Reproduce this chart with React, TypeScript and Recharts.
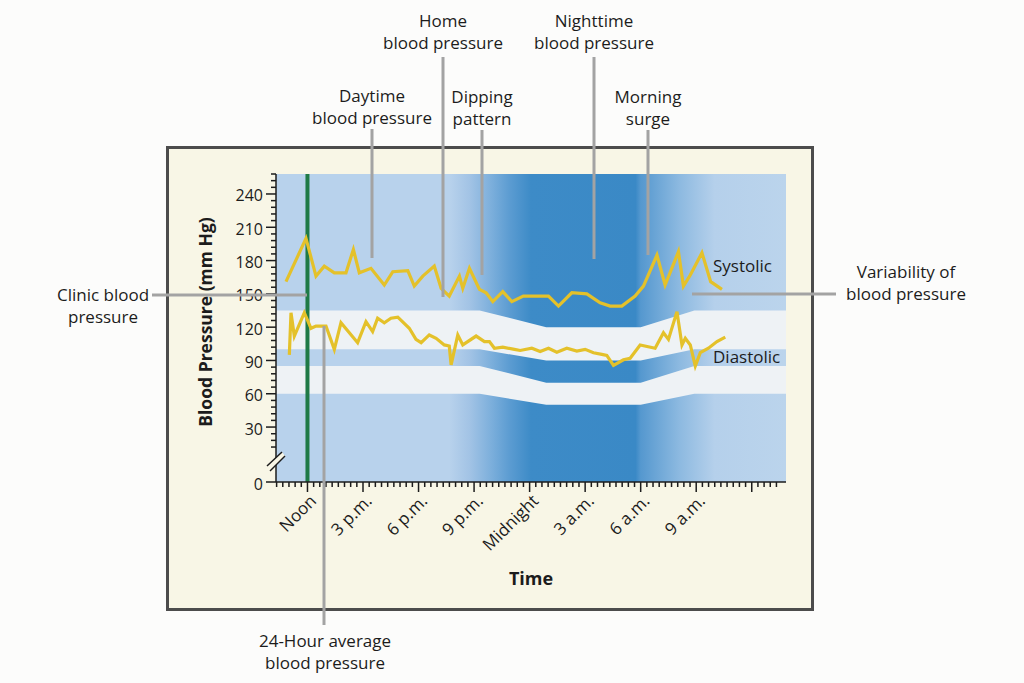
import { Area, ComposedChart, Line, ReferenceLine, XAxis, YAxis } from "recharts";

const FONT = '"Open Sans", "DejaVu Sans", sans-serif';
const INK = "#1c1c1c";
const CALLOUT = "#a3a3a3";
const TRACE = "#e4c12a";
const PALE = "#eef2f5";

// x = hours since midnight of day 1 (24 = midnight, 33 = 9 a.m. next day)
const TIME_DOMAIN: [number, number] = [10.3, 37.85];
// the axis is broken below 30, so "0" sits at -19.5
const BP_DOMAIN: [number, number] = [-19.5, 258];

const timeTickValues = [12, 15, 18, 21, 24, 27, 30, 33, 36];
const timeTickLabels = ["Noon", "3 p.m.", "6 p.m.", "9 p.m.", "Midnight", "3 a.m.", "6 a.m.", "9 a.m.", ""];
const pressureTickValues = [-19.5, 30, 60, 90, 120, 150, 180, 210, 240];
const pressureTickLabels = ["0", "30", "60", "90", "120", "150", "180", "210", "240"];

// minor ticks: every 20 min on time axis, every 6 mm Hg on pressure axis
const timeTicks = Array.from({ length: 82 }, (_, i) => (31 + i) / 3);
const pressureTicks = [-19.5, ...Array.from({ length: 42 }, (_, i) => 12 + i * 6)];

// reference ranges (day -> night -> day)
const bandTime = [10.3, 21.3, 24.9, 30.0, 32.9, 37.85];
const upperBandLow = [100, 100, 90, 90, 100, 100];
const upperBandHigh = [135, 135, 120, 120, 135, 135];
const lowerBandLow = [60, 60, 50, 50, 60, 60];
const lowerBandHigh = [85, 85, 70, 70, 85, 85];

// ambulatory readings
const systolicTime = [10.84, 11.92, 12.46, 12.91, 13.45, 14.08, 14.48, 14.8, 15.43, 16.15, 16.61, 17.42, 17.77, 18.23, 18.85, 19.22, 19.66, 20.21, 20.39, 20.75, 21.29, 21.65, 22.01, 22.55, 23.04, 23.66, 25.02, 25.56, 26.28, 27.09, 27.81, 28.35, 28.98, 29.7, 30.15, 30.88, 31.32, 32.04, 32.31, 32.68, 33.31, 33.78, 34.39];
const systolicValue = [161, 200, 166, 175, 169, 169, 190, 169, 173, 158, 170, 171, 157, 166, 175, 155, 148, 166, 155, 173, 154, 151, 143, 152, 143, 148, 148, 139, 151, 150, 142, 139, 139, 148, 157, 185, 158, 188, 157, 167, 187, 161, 154];
const diastolicTime = [11.02, 11.11, 11.29, 11.83, 12.19, 12.46, 13.0, 13.45, 13.81, 14.71, 15.16, 15.52, 15.79, 16.15, 16.51, 16.88, 17.5, 17.86, 18.14, 18.58, 18.95, 19.39, 19.66, 19.76, 20.12, 20.39, 21.11, 21.56, 21.83, 22.1, 22.55, 23.18, 23.49, 24.12, 24.57, 25.02, 25.47, 26.01, 26.55, 27.0, 27.45, 27.9, 28.17, 28.53, 29.07, 29.43, 29.97, 30.78, 31.23, 31.5, 31.96, 32.23, 32.41, 32.68, 32.95, 33.22, 33.66, 34.12, 34.57];
const diastolicValue = [95, 133, 112, 133, 119, 121, 121, 100, 124, 106, 125, 116, 128, 124, 128, 129, 119, 109, 106, 113, 110, 104, 103, 86, 113, 104, 112, 107, 107, 101, 102, 100, 99, 101, 98, 101, 97.5, 101, 98.5, 100, 97, 95.5, 94.5, 85.5, 90.6, 92, 104, 101, 115, 109, 134, 104, 110, 104, 85, 97, 101, 107, 111];

const backdrop = TIME_DOMAIN.map((t) => ({ t, v: BP_DOMAIN }));
const bands = bandTime.map((t, i) => ({
  t,
  upper: [upperBandLow[i], upperBandHigh[i]],
  lower: [lowerBandLow[i], lowerBandHigh[i]],
}));
const systolic = systolicTime.map((t, i) => ({ t, bp: systolicValue[i] }));
const diastolic = diastolicTime.map((t, i) => ({ t, bp: diastolicValue[i] }));

function TimeTick({ x, y, payload }: any) {
  const v = payload.value as number;
  const idx = timeTickValues.findIndex((m) => Math.abs(m - v) < 0.01);
  const major = idx >= 0;
  const label = major ? timeTickLabels[idx] : "";
  const lx = x + 10;
  const ly = y + 20;
  return (
    <g>
      <line x1={x} x2={x} y1={y} y2={y + (major ? 10 : 5)} stroke={INK} strokeWidth={1.5} />
      {label ? (
        <text x={lx} y={ly} transform={`rotate(-45 ${lx} ${ly})`} textAnchor="end" fontSize={17} fill={INK} fontFamily={FONT}>
          {label}
        </text>
      ) : null}
    </g>
  );
}

function PressureTick({ x, y, payload }: any) {
  const v = payload.value as number;
  const idx = pressureTickValues.indexOf(v);
  const major = idx >= 0;
  return (
    <g>
      <line x1={x - (major ? 10 : 5)} x2={x} y1={y} y2={y} stroke={INK} strokeWidth={1.5} />
      {major ? (
        <text x={x - 13} y={y + 7.5} textAnchor="end" fontSize={16} fill={INK} fontFamily={FONT}>
          {pressureTickLabels[idx]}
        </text>
      ) : null}
    </g>
  );
}

function Note({ x, y, lines }: { x: number; y: number; lines: string[] }) {
  return (
    <text x={x} y={y} textAnchor="middle" fontSize={17} fill={INK} fontFamily={FONT}>
      {lines.map((s, i) => (
        <tspan key={i} x={x} dy={i === 0 ? 0 : 22}>
          {s}
        </tspan>
      ))}
    </text>
  );
}

function Overlay() {
  const line = { stroke: CALLOUT, strokeWidth: 3 };
  return (
    <svg width={1024} height={683} style={{ position: "absolute", left: 0, top: 0, pointerEvents: "none" }}>
      {/* axis break */}
      <polygon points="267,466 282,452 285,456 270,471" fill="#f8f6e6" />
      <line x1={267} y1={466} x2={282} y2={452} stroke={INK} strokeWidth={1.5} />
      <line x1={270} y1={471} x2={285} y2={456} stroke={INK} strokeWidth={1.5} />

      {/* callouts */}
      <line x1={372} y1={129} x2={372} y2={258} {...line} />
      <line x1={443} y1={57} x2={443} y2={297} {...line} />
      <line x1={482} y1={130} x2={482} y2={275} {...line} />
      <line x1={594} y1={57} x2={594} y2={259} {...line} />
      <line x1={648} y1={130} x2={648} y2={255} {...line} />
      <line x1={152} y1={295} x2={307} y2={295} {...line} />
      <line x1={692} y1={294} x2={836} y2={294} {...line} />
      <line x1={324} y1={326} x2={324} y2={625} {...line} />

      <Note x={372} y={102} lines={["Daytime", "blood pressure"]} />
      <Note x={443} y={27} lines={["Home", "blood pressure"]} />
      <Note x={482} y={103} lines={["Dipping", "pattern"]} />
      <Note x={594} y={27} lines={["Nighttime", "blood pressure"]} />
      <Note x={648} y={103} lines={["Morning", "surge"]} />
      <Note x={103} y={301} lines={["Clinic blood", "pressure"]} />
      <Note x={906} y={278} lines={["Variability of", "blood pressure"]} />
      <Note x={325} y={647} lines={["24-Hour average", "blood pressure"]} />

      <text x={713} y={272} fontSize={17} fill={INK} fontFamily={FONT}>Systolic</text>
      <text x={713} y={363} fontSize={17} fill={INK} fontFamily={FONT}>Diastolic</text>

      {/* axis titles */}
      <text x={531} y={585} textAnchor="middle" fontSize={18} fontWeight={700} fill={INK} fontFamily={FONT}>
        Time
      </text>
      <text x={212} y={322} transform="rotate(-90 212 322)" textAnchor="middle" fontSize={17.5} fontWeight={700} fill={INK} fontFamily={FONT}>
        Blood Pressure (mm Hg)
      </text>
    </svg>
  );
}

export default function App() {
  return (
    <div style={{ position: "absolute", left: 0, top: 0, width: 1024, height: 683, background: "#fcfcfb", overflow: "hidden", fontFamily: FONT }}>
      <div
        style={{
          position: "absolute",
          left: 166,
          top: 146,
          width: 648,
          height: 465,
          boxSizing: "border-box",
          border: "3px solid #4c4c4c",
          background: "#f8f6e6",
        }}
      />
      <div style={{ position: "absolute", left: 0, top: 0 }}>
        <ComposedChart width={1024} height={683} margin={{ top: 174, right: 238, bottom: 171, left: 216 }}>
          <defs>
            <linearGradient id="nightShade" x1="0" y1="0" x2="1" y2="0">
              <stop offset="0" stopColor="#b8d2ec" />
              <stop offset="0.34" stopColor="#b8d2ec" />
              <stop offset="0.38" stopColor="#a2c3e5" />
              <stop offset="0.42" stopColor="#7eb0dc" />
              <stop offset="0.46" stopColor="#5a9bd1" />
              <stop offset="0.5" stopColor="#3d8bc7" />
              <stop offset="0.705" stopColor="#3a89c6" />
              <stop offset="0.715" stopColor="#5598cf" />
              <stop offset="0.79" stopColor="#8cb9e0" />
              <stop offset="0.86" stopColor="#b5d0eb" />
              <stop offset="1" stopColor="#bbd4ec" />
            </linearGradient>
          </defs>
          <XAxis
            type="number"
            dataKey="t"
            domain={TIME_DOMAIN}
            allowDataOverflow
            ticks={timeTicks}
            interval={0}
            tick={<TimeTick />}
            tickLine={false}
            tickSize={0}
            tickMargin={0}
            height={30}
            axisLine={{ stroke: INK, strokeWidth: 1.5 }}
          />
          <YAxis
            type="number"
            domain={BP_DOMAIN}
            allowDataOverflow
            ticks={pressureTicks}
            interval={0}
            tick={<PressureTick />}
            tickLine={false}
            tickSize={0}
            tickMargin={0}
            width={60}
            axisLine={{ stroke: INK, strokeWidth: 1.5 }}
          />
          <Area data={backdrop} dataKey="v" type="linear" stroke="none" fill="url(#nightShade)" fillOpacity={1} isAnimationActive={false} />
          <Area data={bands} dataKey="upper" type="linear" stroke="none" fill={PALE} fillOpacity={1} isAnimationActive={false} />
          <Area data={bands} dataKey="lower" type="linear" stroke="none" fill={PALE} fillOpacity={1} isAnimationActive={false} />
          <ReferenceLine x={12} stroke="#1f7a46" strokeWidth={4} />
          <Line data={systolic} dataKey="bp" type="linear" stroke={TRACE} strokeWidth={3.2} dot={false} isAnimationActive={false} />
          <Line data={diastolic} dataKey="bp" type="linear" stroke={TRACE} strokeWidth={3.2} dot={false} isAnimationActive={false} />
        </ComposedChart>
      </div>
      <Overlay />
    </div>
  );
}
